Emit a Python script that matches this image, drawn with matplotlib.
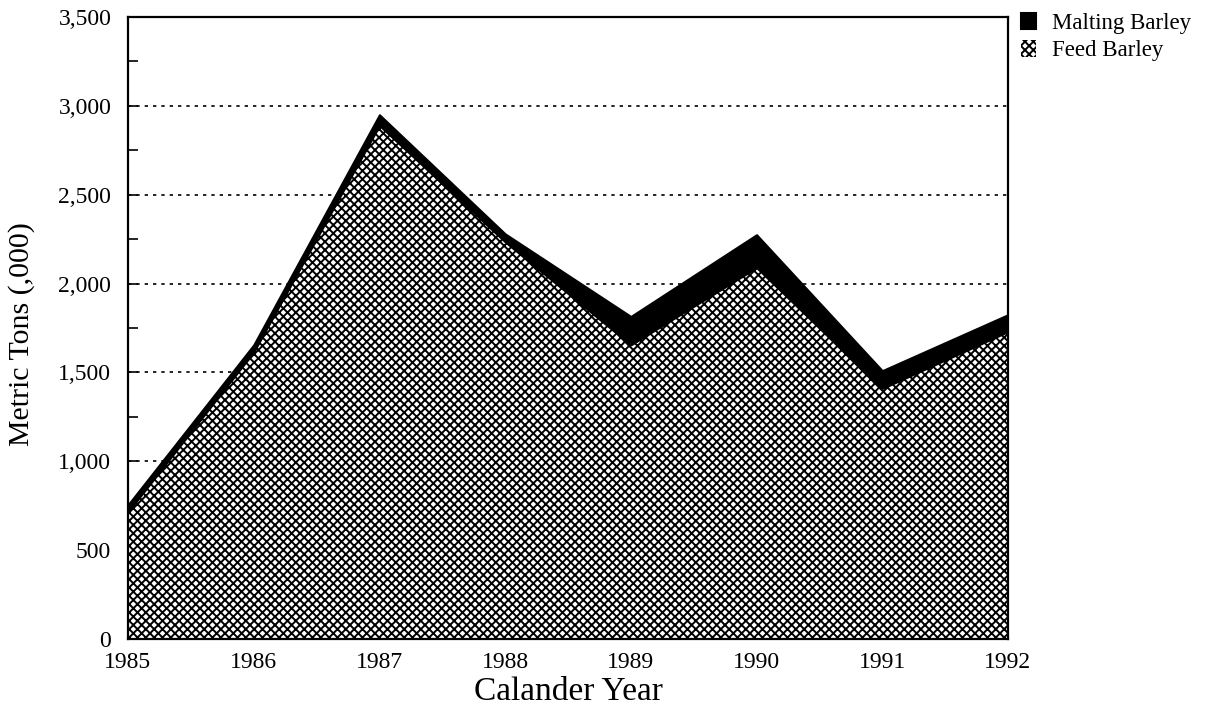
import matplotlib.pyplot as plt
from matplotlib.ticker import MultipleLocator
import numpy as np

years = [1985, 1986, 1987, 1988, 1989, 1990, 1991, 1992]
feed_barley = [715, 1615, 2890, 2235, 1655, 2090, 1410, 1730]
malting_barley = [40, 40, 60, 45, 160, 185, 100, 95]

plt.rcParams['font.family'] = ['Liberation Serif', 'DejaVu Serif']
plt.rcParams['hatch.linewidth'] = 1.4

fig = plt.figure(figsize=(12.05, 7.14), dpi=100)
ax = fig.add_axes([0.1062, 0.105, 0.7303, 0.8712])

feed = np.array(feed_barley)
total = feed + np.array(malting_barley)

# stacked areas: hatched feed barley, solid malting barley on top
ax.fill_between(years, 0, feed, facecolor='white', edgecolor='black',
                hatch='xxxx', linewidth=0, zorder=2, label='Feed Barley')
ax.fill_between(years, feed, total, facecolor='black', edgecolor='black',
                linewidth=1.5, zorder=3, label='Malting Barley')

ax.set_xlim(1985, 1992)
ax.set_ylim(0, 3500)
ax.set_yticks(np.arange(0, 3501, 500))
ax.set_yticklabels(['{:,}'.format(v) for v in range(0, 3501, 500)])
ax.yaxis.set_minor_locator(MultipleLocator(250))
ax.set_xticks(years)

ax.yaxis.grid(True, linestyle=(0, (2, 3)), color='black', linewidth=1.2, zorder=1)
ax.set_axisbelow(True)
ax.tick_params(axis='y', which='both', direction='in', length=7, width=1.2, labelsize=17, pad=12)
ax.tick_params(axis='x', direction='in', length=6, width=1.2, labelsize=17, pad=9)
for s in ax.spines.values():
    s.set_linewidth(1.6)
    s.set_zorder(5)

ax.set_xlabel('Calander Year', fontsize=24, labelpad=3)
ax.set_ylabel('Metric Tons (,000)', fontsize=21.5)
ax.yaxis.set_label_coords(-0.106, 0.49)

handles, labels = ax.get_legend_handles_labels()
ax.legend(handles[::-1], labels[::-1], loc='upper left', bbox_to_anchor=(1.0148, 1.007),
          frameon=False, fontsize=16.5, handlelength=0.65, handleheight=0.75,
          handletextpad=0.7, labelspacing=0.25, borderaxespad=0, borderpad=0)

fig.savefig('out.png', dpi=100)
